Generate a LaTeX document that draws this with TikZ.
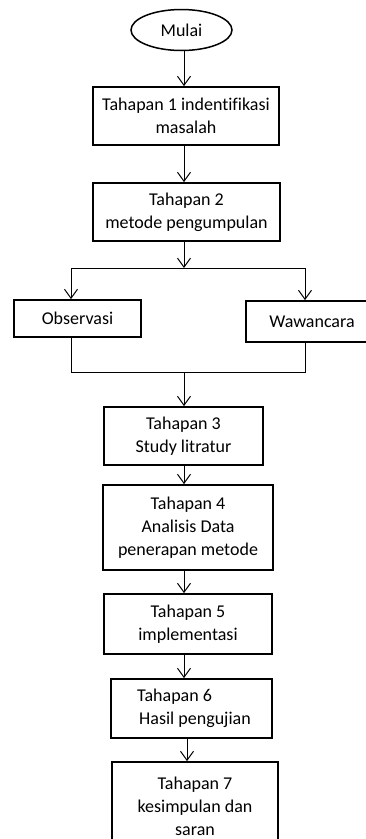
\documentclass[tikz,border=0pt]{standalone}
\usepackage{fontspec}
\setmainfont[Ligatures=NoCommon]{Carlito}
\usepackage{tikz}
\usetikzlibrary{shapes.geometric,arrows.meta}

\begin{document}
\begin{tikzpicture}
    [
    x=1pt,y=-1pt,
    box/.style = {draw,line width=1.8pt,align=center,inner sep=0pt,font=\fontsize{18}{23}\selectfont},
    start/.style = {draw,ellipse,line width=1.5pt,inner sep=0pt,font=\fontsize{18}{23}\selectfont},
    arr/.style = {line width=1pt,-{Straight Barb[length=9pt,width=13pt,line width=1pt]}},
    ln/.style = {line width=1pt}
    ]
\useasboundingbox (0,0) rectangle (366,839);

\node[start,minimum width=101pt,minimum height=41pt] (mulai) at (181.5,30) {Mulai};
\node[box,minimum width=186pt,minimum height=58pt] (tahap1) at (186,116) {Tahapan 1 indentifikasi\\masalah};
\node[box,minimum width=187pt,minimum height=58pt] (tahap2) at (186.5,212) {Tahapan 2\\metode pengumpulan};
\node[box,minimum width=127pt,minimum height=37pt] (obs) at (77.5,318.5) {Observasi};
\node[box,minimum width=132pt,minimum height=41pt] (waw) at (312,321.5) {Wawancara};
\node[box,minimum width=159pt,minimum height=58pt] (tahap3) at (183.5,436) {Tahapan 3\\Study litratur};
\node[box,minimum width=170pt,minimum height=85pt] (tahap4) at (188,527.5) {Tahapan 4\\Analisis Data\\penerapan metode};
\node[box,minimum width=168pt,minimum height=60pt] (tahap5) at (188,624) {Tahapan 5\\implementasi};
\node[box,minimum width=161pt,minimum height=59pt,align=left] (tahap6) at (191.5,708.5) {\hspace{5pt}Tahapan 6\\\hspace{7pt}Hasil pengujian};
\node[box,minimum width=166pt,minimum height=88pt] (tahap7) at (195,806) {Tahapan 7\\kesimpulan dan\\saran};

\coordinate (spine) at (184,0);
\coordinate (split) at (184,268);
\coordinate (merge) at (184,372);
\coordinate (kiri) at (71,0);
\coordinate (kanan) at (305,0);

\draw[arr] (mulai.south -| spine) -- (tahap1.north -| spine);
\draw[arr] (tahap1.south -| spine) -- (tahap2.north -| spine);
\draw[arr] (tahap2.south -| spine) -- (split);
\draw[ln] (split -| kiri) -- (split -| kanan);
\draw[arr] (split -| kiri) -- (obs.north -| kiri);
\draw[arr] (split -| kanan) -- (waw.north -| kanan);

\draw[ln] (obs.south -| kiri) |- (merge -| kanan) -- (waw.south -| kanan);
\draw[arr] (merge) -- (tahap3.north -| spine);
\draw[arr] (tahap3.south -| spine) -- (tahap4.north -| spine);
\draw[arr] (tahap4.south -| spine) -- (tahap5.north -| spine);
\draw[arr] (tahap5.south -| spine) -- (tahap6.north -| spine);
\draw[arr] ([xshift=3pt]tahap6.south -| spine) -- ([xshift=3pt]tahap7.north -| spine);

\end{tikzpicture}
\end{document}
